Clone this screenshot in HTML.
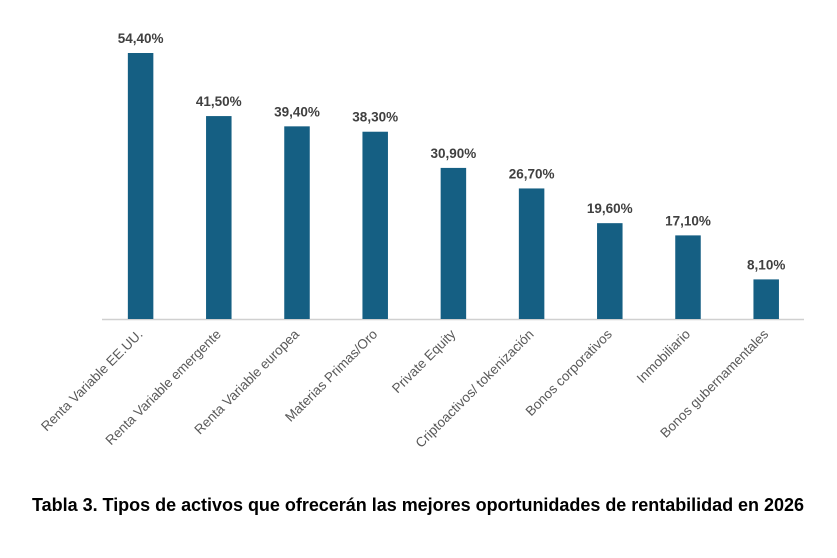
<!DOCTYPE html>
<html><head><meta charset="utf-8"><style>
html,body{margin:0;padding:0;background:#fff;width:837px;height:558px;overflow:hidden}
svg{display:block;font-family:"Liberation Sans",Arial,sans-serif}
</style></head><body>
<svg id="chart" width="837" height="558">
<line x1="102" y1="319.5" x2="804" y2="319.5" stroke="#d0d0d0" stroke-width="1.5"/>
<text x="32" y="511" font-size="18" font-weight="bold" fill="#000" textLength="772" lengthAdjust="spacing">Tabla 3. Tipos de activos que ofrecerán las mejores oportunidades de rentabilidad en 2026</text>
</svg>
<script>
const categories=["Renta Variable EE.UU.","Renta Variable emergente","Renta Variable europea","Materias Primas/Oro","Private Equity","Criptoactivos/ tokenización","Bonos corporativos","Inmobiliario","Bonos gubernamentales"];
const values=[54.4,41.5,39.4,38.3,30.9,26.7,19.6,17.1,8.1];
const valueLabels=["54,40%","41,50%","39,40%","38,30%","30,90%","26,70%","19,60%","17,10%","8,10%"];
const svg=document.getElementById('chart');
const NS='http://www.w3.org/2000/svg';
const x0=101.5,step=78.2,baseY=319,pxPer=266/54.4,bw=25.5;
const xc=i=>x0+step*(i+0.5);
const y=v=>baseY-v*pxPer;
categories.forEach((c,i)=>{
 const r=document.createElementNS(NS,'rect');
 r.setAttribute('x',xc(i)-bw/2);r.setAttribute('y',y(values[i]));
 r.setAttribute('width',bw);r.setAttribute('height',baseY-y(values[i]));
 r.setAttribute('fill','#155f83');
 
 
 svg.appendChild(r);
 const t=document.createElementNS(NS,'text');
 t.setAttribute('x',xc(i));t.setAttribute('y',y(values[i])-10);
 t.setAttribute('text-anchor','middle');t.setAttribute('font-size','13.5');
 t.setAttribute('font-weight','bold');t.setAttribute('fill','#404040');
 t.textContent=valueLabels[i];
 
 
 svg.appendChild(t);
 const l=document.createElementNS(NS,'text');
 const lx=xc(i)+3,ly=335;
 l.setAttribute('x',lx);l.setAttribute('y',ly);
 l.setAttribute('text-anchor','end');l.setAttribute('font-size','13.5');
 l.setAttribute('fill','#595959');
 l.setAttribute('transform','rotate(-45 '+lx+' '+ly+')');
 l.textContent=c;
 
 
 svg.appendChild(l);
});
</script>
</body></html>
